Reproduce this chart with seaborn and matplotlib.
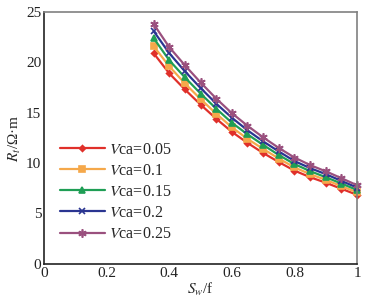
import matplotlib
matplotlib.use("Agg")
import matplotlib.pyplot as plt
import seaborn as sns
import pandas as pd

# Water saturation and resistivity for each Vca
sw = [0.35, 0.40, 0.45, 0.50, 0.55, 0.60, 0.65, 0.70, 0.75, 0.80, 0.85, 0.90, 0.95, 1.00]
vca_labels = ["0.05", "0.1", "0.15", "0.2", "0.25"]
rt_005 = [20.9, 18.9, 17.3, 15.8, 14.4, 13.1, 12.0, 11.0, 10.1, 9.25, 8.6, 8.05, 7.45, 6.85]
rt_010 = [21.6, 19.6, 17.9, 16.35, 14.9, 13.55, 12.4, 11.4, 10.45, 9.57, 8.9, 8.33, 7.71, 7.09]
rt_015 = [22.4, 20.2, 18.5, 16.9, 15.4, 14.0, 12.85, 11.8, 10.8, 9.9, 9.2, 8.6, 7.97, 7.33]
rt_020 = [23.1, 20.9, 19.1, 17.45, 15.9, 14.5, 13.25, 12.15, 11.15, 10.2, 9.5, 8.9, 8.23, 7.57]
rt_025 = [23.8, 21.5, 19.7, 18.0, 16.4, 14.95, 13.7, 12.55, 11.5, 10.55, 9.8, 9.18, 8.5, 7.8]
x_ticks = [0, 0.2, 0.4, 0.6, 0.8, 1]
x_tick_labels = ["0", "0.2", "0.4", "0.6", "0.8", "1"]
y_ticks = [0, 5, 10, 15, 20, 25]

series = [rt_005, rt_010, rt_015, rt_020, rt_025]
rows = []
for lab, vals in zip(vca_labels, series):
    name = "$V$ca=" + lab
    for s, r in zip(sw, vals):
        rows.append({"Sw": s, "Rt": r, "Vca": name})
data = pd.DataFrame(rows)
names = ["$V$ca=" + lab for lab in vca_labels]

sns.set_style("white")
plt.rcParams["font.family"] = ["Liberation Serif", "DejaVu Serif"]
plt.rcParams["mathtext.fontset"] = "stix"

colors = ["#e0302a", "#f5a84a", "#1f9e55", "#2a3591", "#9a507e"]
markers = ["D", "s", "^", "x", (6, 2, 0)]
msizes = [3, 4.5, 5, 5, 6]

fig = plt.figure(figsize=(3.70, 3.04), dpi=100)
ax = fig.add_axes([0.119, 0.132, 0.846, 0.829])

for name, c, m, ms in zip(names, colors, markers, msizes):
    sub = data[data["Vca"] == name]
    sns.lineplot(x="Sw", y="Rt", data=sub, ax=ax, color=c, marker=m,
                 markersize=ms, markeredgecolor=c, markeredgewidth=1.2,
                 linewidth=1.6, label=name, clip_on=False)

ax.set_xlim(0, 1)
ax.set_ylim(0, 25)
ax.set_xticks(x_ticks)
ax.set_xticklabels(x_tick_labels)
ax.set_yticks(y_ticks)
ax.tick_params(direction="in", length=4, labelsize=11, colors="#222222", pad=2)
for side in ["top", "right"]:
    ax.spines[side].set_color("#808080")
for side in ["left", "bottom"]:
    ax.spines[side].set_color("#222222")
for sp in ax.spines.values():
    sp.set_linewidth(1.2)

ax.set_xlabel("$S_w$/f", fontsize=11, labelpad=1)
ax.set_ylabel("$R_t$/\u03a9\u00b7m", fontsize=11, labelpad=2)

ax.legend(loc="upper left", bbox_to_anchor=(0.03, 0.51), frameon=False,
          fontsize=11.5, handlelength=2.8, labelspacing=0.32, handletextpad=0.3,
          borderaxespad=0)

fig.savefig("out.png", dpi=100)
